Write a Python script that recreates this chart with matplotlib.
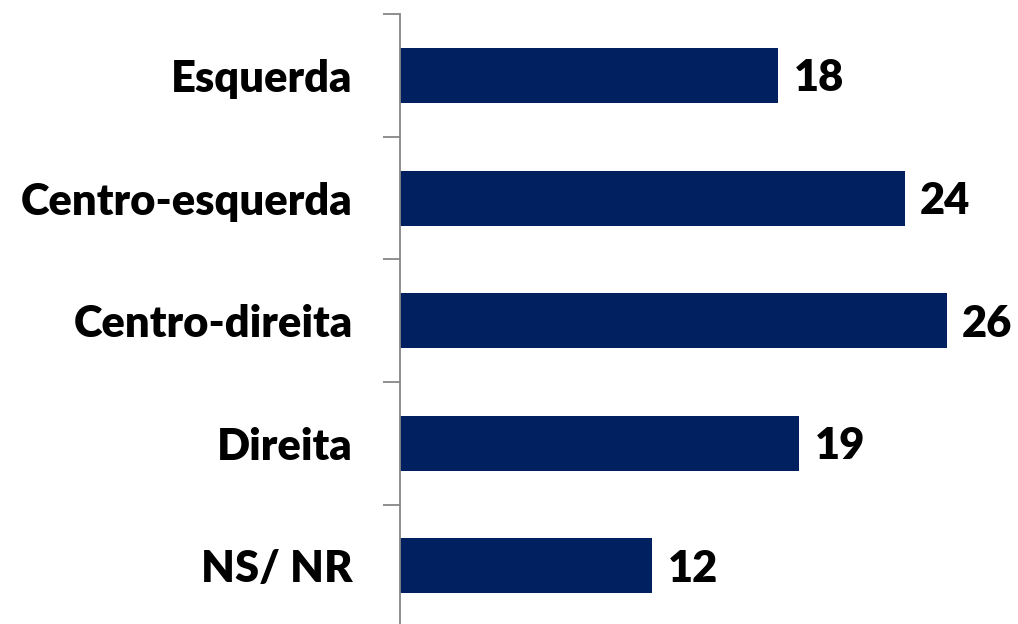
import matplotlib.pyplot as plt
from matplotlib.ticker import FixedLocator

categories = ["Esquerda", "Centro-esquerda", "Centro-direita", "Direita", "NS/ NR"]
values = [18, 24, 26, 19, 12]

plt.rcParams['font.family'] = ['Lato', 'DejaVu Sans']

fig = plt.figure(figsize=(10.18, 6.24), dpi=100)
ax = fig.add_axes([0.393, -0.005, 0.607, 0.982])

pos = list(range(len(categories)))
ax.barh(pos, values, height=0.45, color="#002060")
ax.set_ylim(len(categories) - 0.5, -0.5)
ax.set_xlim(0, 29.4)

ax.set_yticks(pos)
ax.set_yticklabels(categories, fontsize=31.3, fontweight="heavy")
ax.tick_params(axis="y", which="major", length=0, pad=34)
ax.yaxis.set_minor_locator(FixedLocator([p - 0.5 for p in pos] + [len(pos) - 0.5]))
ax.tick_params(axis="y", which="minor", length=12, width=1.3, color="#868686")
ax.set_xticks([])

for s in ["top", "right", "bottom"]:
    ax.spines[s].set_visible(False)
ax.spines["left"].set_color("#868686")
ax.spines["left"].set_linewidth(1.3)

for p, v in zip(pos, values):
    ax.annotate(str(v), (v, p), xytext=(11, -2), textcoords="offset points",
                ha="left", va="center", fontsize=31.3, fontweight="heavy")

fig.savefig("out.png", dpi=100)
